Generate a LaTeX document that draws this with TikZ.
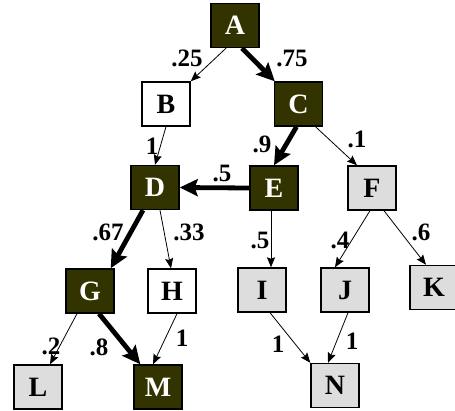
\documentclass[tikz,border=0pt]{standalone}
\usepackage{fontspec}
\setmainfont{Liberation Serif}
\usetikzlibrary{arrows.meta}
\definecolor{darkolive}{RGB}{51,51,0}
\definecolor{lightbox}{RGB}{221,221,221}

\begin{document}
\begin{tikzpicture}[x=1pt,y=-1pt,
  box/.style={draw=black, line width=1.4pt, minimum width=48pt, minimum height=44pt,
              inner sep=0pt, font=\fontsize{28}{28}\selectfont\bfseries},
  boxdark/.style={box, fill=darkolive, text=white},
  boxgrey/.style={box, fill=lightbox},
  boxwhite/.style={box, fill=white},
  lbl/.style={font=\fontsize{25}{25}\selectfont\bfseries, inner sep=0pt},
  flow/.style={line width=0.8pt, -{Stealth[length=10pt,width=8pt,inset=1.5pt]}},
  mainflow/.style={line width=4.8pt, -{Stealth[length=18pt,width=17pt,inset=3pt]}},
]
\useasboundingbox (0,0) rectangle (455,410);

% nodes
\node[boxdark]  (A) at (235,25.5) {A};
\node[boxwhite] (B) at (166,104) {B};
\node[boxdark]  (C) at (298.5,104) {C};
\node[boxdark]  (D) at (155,187.5) {D};
\node[boxdark]  (E) at (274,188) {E};
\node[boxgrey]  (F) at (372,188) {F};
\node[boxdark]  (G) at (90,291) {G};
\node[boxwhite] (H) at (172,291) {H};
\node[boxgrey]  (I) at (262,290) {I};
\node[boxgrey]  (J) at (345,290) {J};
\node[boxgrey]  (K) at (434,287.5) {K};
\node[boxgrey]  (L) at (38,387) {L};
\node[boxdark]  (M) at (158,387) {M};
\node[boxgrey]  (N) at (335,385.5) {N};

% connectors
\draw[flow]     ([xshift=-9pt]A.south) -- (B.north east);
\draw[mainflow] ([xshift=7pt]A.south) -- ([xshift=1pt]C.north west);
\draw[flow]     (B.south) -- (D.north);
\draw[mainflow] ([xshift=-2pt]C.south) -- (E.north);
\draw[flow]     ([xshift=17pt]C.south) -- ([xshift=-15pt]F.north);
\draw[mainflow] (E.west) -- (D.east);
\draw[mainflow] ([xshift=-12pt]D.south) -- ([xshift=-4pt]G.north east);
\draw[flow]     ([xshift=5pt]D.south) -- ([xshift=-1pt]H.north);
\draw[flow]     ([xshift=-3pt]E.south) -- ([xshift=-3pt]E.south |- I.north);
\draw[flow]     ([xshift=-2pt]F.south) -- ([xshift=-10pt]J.north);
\draw[flow]     ([xshift=12pt]F.south) -- ([xshift=-8pt]K.north);
\draw[flow]     ([xshift=-13pt]G.south) -- ([xshift=12pt]L.north);
\draw[mainflow] ([xshift=9pt]G.south) -- ([xshift=7pt]M.north west);
\draw[flow]     ([xshift=5pt]H.south) -- ([xshift=-5pt]M.north);
\draw[flow]     ([xshift=8pt]I.south) -- (N.north west);
\draw[flow]     ([xshift=3pt]J.south) -- ([xshift=-7pt]N.north);

% probabilities
\node[lbl] (pAB) at (187,58)  {.25};
\node[lbl] (pAC) at (292,58)  {.75};
\node[lbl] (pBD) at (152,146) {1};
\node[lbl] (pCE) at (262,144) {.9};
\node[lbl] (pCF) at (357,139) {.1};
\node[lbl] (pED) at (222,173) {.5};
\node[lbl] (pDG) at (108,232) {.67};
\node[lbl] (pDH) at (189,232) {.33};
\node[lbl] (pEI) at (260,240) {.5};
\node[lbl] (pFJ) at (340,240) {.4};
\node[lbl] (pFK) at (421,232) {.6};
\node[lbl] (pGL) at (51,346)  {.2};
\node[lbl] (pGM) at (99,347)  {.8};
\node[lbl] (pHM) at (182,338) {1};
\node[lbl] (pIN) at (278,344) {1};
\node[lbl] (pJN) at (352,341) {1};
\end{tikzpicture}
\end{document}
